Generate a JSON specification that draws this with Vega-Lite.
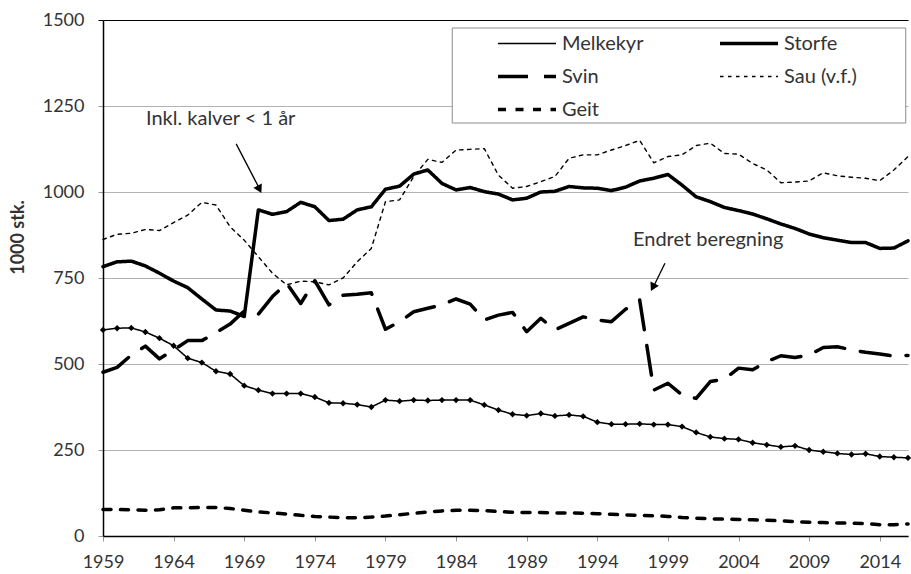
{
  "$schema": "https://vega.github.io/schema/vega-lite/v6.json",
  "width": 805,
  "height": 516,
  "autosize": {"type": "none"},
  "padding": {"left": 103, "top": 20, "right": 3, "bottom": 38},
  "background": "white",
  "config": {"view": {"stroke": null}, "font": "Lato"},
  "datasets": {
    "main": [
      {"year": 1959, "Melkekyr": 599, "Storfe": 783, "Svin": 476, "Sau": 862, "Geit": 77},
      {"year": 1960, "Melkekyr": 604, "Storfe": 797, "Svin": 490, "Sau": 877, "Geit": 77},
      {"year": 1961, "Melkekyr": 605, "Storfe": 799, "Svin": 526, "Sau": 880, "Geit": 76},
      {"year": 1962, "Melkekyr": 593, "Storfe": 785, "Svin": 552, "Sau": 891, "Geit": 75},
      {"year": 1963, "Melkekyr": 575, "Storfe": 764, "Svin": 515, "Sau": 888, "Geit": 76},
      {"year": 1964, "Melkekyr": 553, "Storfe": 741, "Svin": 541, "Sau": 911, "Geit": 82},
      {"year": 1965, "Melkekyr": 517, "Storfe": 722, "Svin": 568, "Sau": 933, "Geit": 82},
      {"year": 1966, "Melkekyr": 504, "Storfe": 689, "Svin": 568, "Sau": 970, "Geit": 83},
      {"year": 1967, "Melkekyr": 479, "Storfe": 657, "Svin": 591, "Sau": 962, "Geit": 83},
      {"year": 1968, "Melkekyr": 471, "Storfe": 654, "Svin": 616, "Sau": 899, "Geit": 80},
      {"year": 1969, "Melkekyr": 437, "Storfe": 638, "Svin": 654, "Sau": 860, "Geit": 75},
      {"year": 1970, "Melkekyr": 424, "Storfe": 948, "Svin": 645, "Sau": 812, "Geit": 70},
      {"year": 1971, "Melkekyr": 414, "Storfe": 935, "Svin": 696, "Sau": 764, "Geit": 67},
      {"year": 1972, "Melkekyr": 414, "Storfe": 943, "Svin": 735, "Sau": 730, "Geit": 64},
      {"year": 1973, "Melkekyr": 414, "Storfe": 970, "Svin": 676, "Sau": 741, "Geit": 60},
      {"year": 1974, "Melkekyr": 404, "Storfe": 957, "Svin": 742, "Sau": 739, "Geit": 57},
      {"year": 1975, "Melkekyr": 387, "Storfe": 917, "Svin": 672, "Sau": 730, "Geit": 55},
      {"year": 1976, "Melkekyr": 386, "Storfe": 921, "Svin": 700, "Sau": 750, "Geit": 53},
      {"year": 1977, "Melkekyr": 382, "Storfe": 948, "Svin": 703, "Sau": 797, "Geit": 53},
      {"year": 1978, "Melkekyr": 375, "Storfe": 957, "Svin": 707, "Sau": 836, "Geit": 55},
      {"year": 1979, "Melkekyr": 395, "Storfe": 1008, "Svin": 601, "Sau": 972, "Geit": 58},
      {"year": 1980, "Melkekyr": 392, "Storfe": 1017, "Svin": 623, "Sau": 977, "Geit": 62},
      {"year": 1981, "Melkekyr": 395, "Storfe": 1052, "Svin": 652, "Sau": 1045, "Geit": 66},
      {"year": 1982, "Melkekyr": 394, "Storfe": 1064, "Svin": 662, "Sau": 1095, "Geit": 70},
      {"year": 1983, "Melkekyr": 395, "Storfe": 1025, "Svin": 672, "Sau": 1086, "Geit": 73},
      {"year": 1984, "Melkekyr": 395, "Storfe": 1006, "Svin": 689, "Sau": 1122, "Geit": 75},
      {"year": 1985, "Melkekyr": 395, "Storfe": 1013, "Svin": 674, "Sau": 1124, "Geit": 75},
      {"year": 1986, "Melkekyr": 381, "Storfe": 1001, "Svin": 628, "Sau": 1126, "Geit": 74},
      {"year": 1987, "Melkekyr": 366, "Storfe": 994, "Svin": 642, "Sau": 1049, "Geit": 71},
      {"year": 1988, "Melkekyr": 354, "Storfe": 977, "Svin": 650, "Sau": 1011, "Geit": 69},
      {"year": 1989, "Melkekyr": 350, "Storfe": 982, "Svin": 594, "Sau": 1016, "Geit": 68},
      {"year": 1990, "Melkekyr": 356, "Storfe": 1000, "Svin": 633, "Sau": 1030, "Geit": 68},
      {"year": 1991, "Melkekyr": 349, "Storfe": 1002, "Svin": 599, "Sau": 1045, "Geit": 67},
      {"year": 1992, "Melkekyr": 352, "Storfe": 1016, "Svin": 618, "Sau": 1098, "Geit": 67},
      {"year": 1993, "Melkekyr": 348, "Storfe": 1012, "Svin": 637, "Sau": 1108, "Geit": 66},
      {"year": 1994, "Melkekyr": 331, "Storfe": 1011, "Svin": 628, "Sau": 1108, "Geit": 65},
      {"year": 1995, "Melkekyr": 325, "Storfe": 1004, "Svin": 623, "Sau": 1122, "Geit": 63},
      {"year": 1996, "Melkekyr": 325, "Storfe": 1014, "Svin": 659, "Sau": 1135, "Geit": 61},
      {"year": 1997, "Melkekyr": 326, "Storfe": 1032, "Svin": 686, "Sau": 1150, "Geit": 60},
      {"year": 1998, "Melkekyr": 324, "Storfe": 1040, "Svin": 424, "Sau": 1085, "Geit": 59},
      {"year": 1999, "Melkekyr": 324, "Storfe": 1051, "Svin": 444, "Sau": 1103, "Geit": 57},
      {"year": 2000, "Melkekyr": 318, "Storfe": 1020, "Svin": 410, "Sau": 1108, "Geit": 54},
      {"year": 2001, "Melkekyr": 301, "Storfe": 986, "Svin": 400, "Sau": 1135, "Geit": 52},
      {"year": 2002, "Melkekyr": 288, "Storfe": 972, "Svin": 449, "Sau": 1142, "Geit": 50},
      {"year": 2003, "Melkekyr": 283, "Storfe": 955, "Svin": 456, "Sau": 1112, "Geit": 49},
      {"year": 2004, "Melkekyr": 281, "Storfe": 946, "Svin": 488, "Sau": 1110, "Geit": 48},
      {"year": 2005, "Melkekyr": 271, "Storfe": 936, "Svin": 483, "Sau": 1083, "Geit": 47},
      {"year": 2006, "Melkekyr": 265, "Storfe": 922, "Svin": 507, "Sau": 1064, "Geit": 46},
      {"year": 2007, "Melkekyr": 259, "Storfe": 907, "Svin": 524, "Sau": 1027, "Geit": 44},
      {"year": 2008, "Melkekyr": 262, "Storfe": 894, "Svin": 519, "Sau": 1029, "Geit": 42},
      {"year": 2009, "Melkekyr": 250, "Storfe": 878, "Svin": 526, "Sau": 1032, "Geit": 40},
      {"year": 2010, "Melkekyr": 245, "Storfe": 867, "Svin": 548, "Sau": 1056, "Geit": 39},
      {"year": 2011, "Melkekyr": 240, "Storfe": 860, "Svin": 550, "Sau": 1047, "Geit": 38},
      {"year": 2012, "Melkekyr": 237, "Storfe": 853, "Svin": 541, "Sau": 1043, "Geit": 37},
      {"year": 2013, "Melkekyr": 239, "Storfe": 853, "Svin": 534, "Sau": 1040, "Geit": 36},
      {"year": 2014, "Melkekyr": 231, "Storfe": 836, "Svin": 529, "Sau": 1033, "Geit": 33},
      {"year": 2015, "Melkekyr": 229, "Storfe": 837, "Svin": 523, "Sau": 1064, "Geit": 33},
      {"year": 2016, "Melkekyr": 227, "Storfe": 858, "Svin": 525, "Sau": 1103, "Geit": 35}
    ],
    "box": [{"year": 1983.73, "year2": 2015.84, "value": 1476.7, "value2": 1200.6}],
    "arrows": [
      {"year": 1968.43, "value": 1140, "year2": 1970.15, "value2": 1004},
      {"year": 1998.79, "value": 793, "year2": 1997.9, "value2": 718}
    ],
    "heads": [
      {"year": 1970.08, "value": 1008, "angle": 333},
      {"year": 1997.93, "value": 723, "angle": 27}
    ],
    "notes": [
      {"year": 1967.33, "value": 1212, "text": "Inkl. kalver < 1 år"},
      {"year": 2001.85, "value": 860, "text": "Endret beregning"}
    ]
  },
  "encoding": {
    "x": {
      "field": "year",
      "type": "quantitative",
      "scale": {"domain": [1959, 2016], "nice": false, "zero": false},
      "axis": {
        "values": [1959, 1964, 1969, 1974, 1979, 1984, 1989, 1994, 1999, 2004, 2009, 2014],
        "format": "d",
        "title": null,
        "grid": false,
        "labelFont": "Lato",
        "labelFontSize": 18,
        "labelColor": "#333333",
        "labelPadding": 12,
        "labelFlush": false,
        "tickColor": "#999999",
        "tickSize": 5,
        "domainColor": "#000000",
        "domainWidth": 1.5
      }
    },
    "y": {
      "field": "value",
      "type": "quantitative",
      "scale": {"domain": [0, 1500], "nice": false},
      "axis": {
        "values": [0, 250, 500, 750, 1000, 1250, 1500],
        "format": "d",
        "title": "1000 stk.",
        "titleFont": "Lato",
        "titleFontSize": 18,
        "titleFontWeight": "bold",
        "titleColor": "#333333",
        "titleAngle": -90,
        "titleX": -85,
        "titleY": 217,
        "titleAlign": "center",
        "titleBaseline": "middle",
        "labelFont": "Lato",
        "labelFontSize": 18,
        "labelColor": "#333333",
        "labelPadding": 14,
        "tickSize": 5,
        "tickColor": {"condition": {"test": "datum.value === 1500", "value": "#000000"}, "value": "#999999"},
        "gridColor": {"condition": {"test": "datum.value === 1500", "value": "#000000"}, "value": "#b3b3b3"},
        "gridWidth": 1,
        "domainColor": "#000000",
        "domainWidth": 1.5
      }
    }
  },
  "layer": [
    {
      "data": {"name": "box"},
      "mark": {"type": "rect", "fill": "white", "stroke": "#8c8c8c", "strokeWidth": 1},
      "encoding": {
        "x2": {"field": "year2"},
        "y2": {"field": "value2"}
      }
    },
    {
      "data": {"name": "main"},
      "transform": [{"fold": ["Melkekyr", "Storfe", "Svin", "Sau", "Geit"], "as": ["series", "value"]}],
      "mark": {"type": "line", "color": "black", "strokeCap": "round", "strokeJoin": "round"},
      "encoding": {
        "strokeDash": {
          "field": "series",
          "type": "nominal",
          "scale": {
            "type": "ordinal",
            "domain": ["Melkekyr", "Svin", "Geit", "Storfe", "Sau"],
            "range": [[1, 0], [30, 16], [8, 9.5], [1, 0], [3.5, 4.5]]
          },
          "legend": {
            "title": null,
            "orient": "none",
            "legendX": 393,
            "legendY": 8,
            "columns": 2,
            "symbolType": "stroke",
            "symbolSize": 3364,
            "symbolStrokeColor": "black",
            "labelFont": "Lato",
            "labelFontSize": 20,
            "labelColor": "#333333",
            "labelOffset": 4,
            "clipHeight": 31,
            "rowPadding": 2,
            "columnPadding": 74,
            "labelExpr": "datum.label == 'Sau' ? 'Sau (v.f.)' : datum.label"
          }
        },
        "strokeWidth": {
          "field": "series",
          "type": "nominal",
          "scale": {
            "type": "ordinal",
            "domain": ["Melkekyr", "Svin", "Geit", "Storfe", "Sau"],
            "range": [1.5, 3.5, 3.5, 3.5, 1.4]
          },
          "legend": {
            "title": null,
            "orient": "none",
            "legendX": 393,
            "legendY": 8,
            "columns": 2,
            "symbolType": "stroke",
            "symbolSize": 3364,
            "symbolStrokeColor": "black",
            "labelFont": "Lato",
            "labelFontSize": 20,
            "labelColor": "#333333",
            "labelOffset": 4,
            "clipHeight": 31,
            "rowPadding": 2,
            "columnPadding": 74,
            "labelExpr": "datum.label == 'Sau' ? 'Sau (v.f.)' : datum.label"
          }
        }
      }
    },
    {
      "data": {"name": "main"},
      "transform": [
        {"fold": ["Melkekyr"], "as": ["series", "value"]}
      ],
      "mark": {"type": "point", "shape": "diamond", "filled": true, "color": "black", "size": 40, "opacity": 1},
      "encoding": {}
    },
    {
      "data": {"name": "arrows"},
      "mark": {"type": "rule", "color": "black", "strokeWidth": 1.3},
      "encoding": {
        "x2": {"field": "year2"},
        "y2": {"field": "value2"}
      }
    },
    {
      "data": {"name": "heads"},
      "mark": {"type": "point", "shape": "triangle-down", "filled": true, "color": "black", "size": 90, "opacity": 1},
      "encoding": {
        "angle": {"field": "angle", "type": "quantitative", "scale": null}
      }
    },
    {
      "data": {"name": "notes"},
      "mark": {"type": "text", "font": "Lato", "fontSize": 20, "color": "#333333", "align": "center", "baseline": "middle"},
      "encoding": {
        "text": {"field": "text"}
      }
    }
  ]
}
